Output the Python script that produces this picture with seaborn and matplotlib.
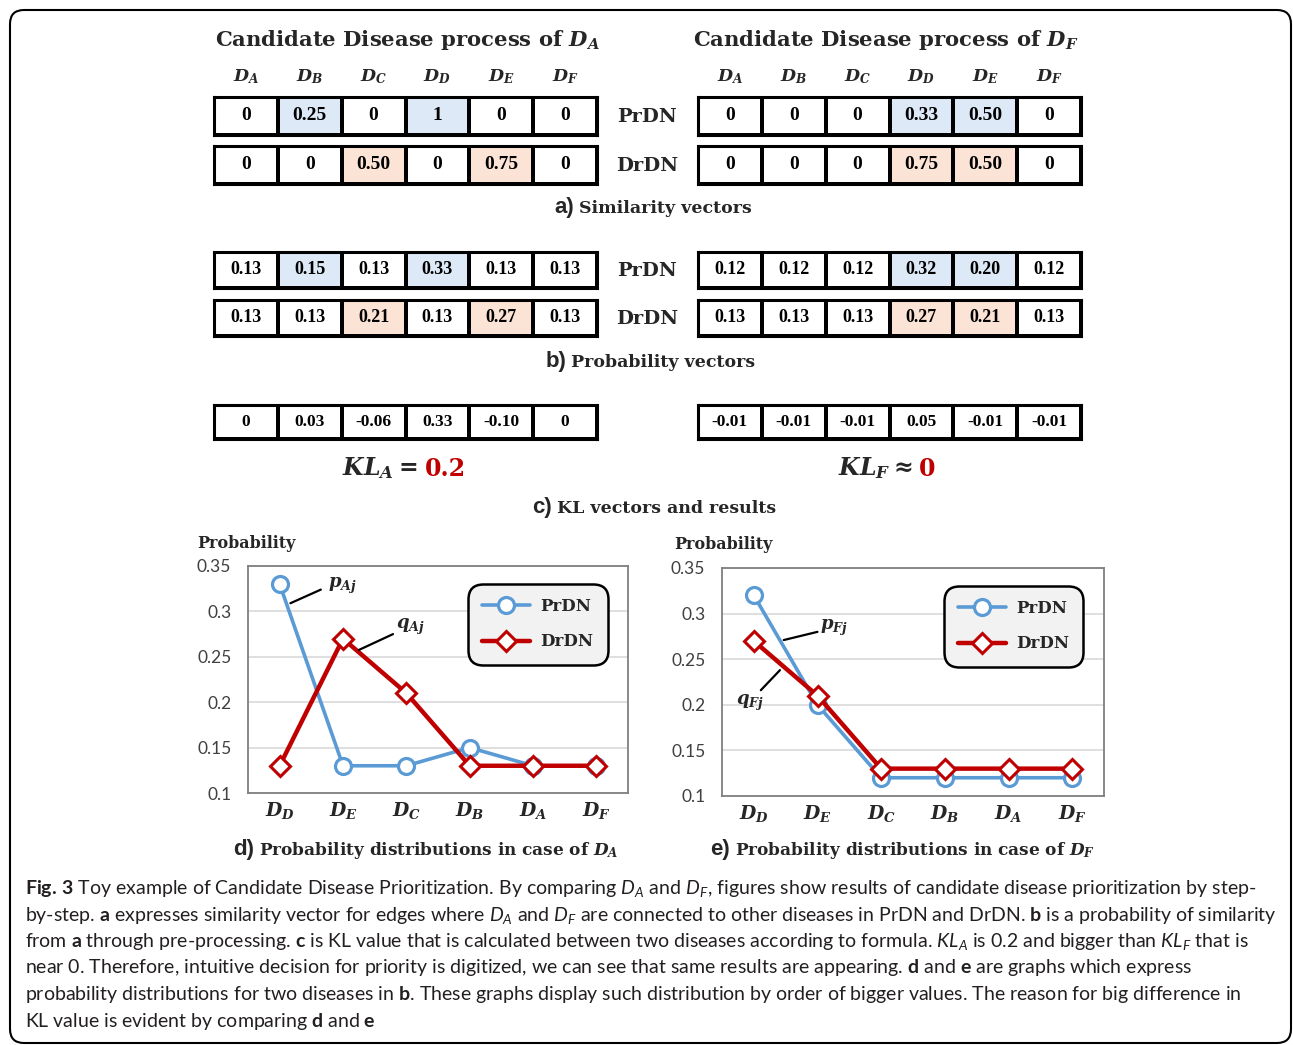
import numpy as np
import pandas as pd
import matplotlib
matplotlib.use('Agg')
import matplotlib.pyplot as plt
import seaborn as sns
from matplotlib.colors import ListedColormap
from matplotlib.patches import FancyBboxPatch

# ---------------- data ----------------
diseases = ['A', 'B', 'C', 'D', 'E', 'F']
col_labels = [f'$D_{d}$' for d in diseases]
row_labels = ['PrDN', 'DrDN']

sim_A_pr = [0, 0.25, 0, 1, 0, 0]
sim_A_dr = [0, 0, 0.50, 0, 0.75, 0]
sim_F_pr = [0, 0, 0, 0.33, 0.50, 0]
sim_F_dr = [0, 0, 0, 0.75, 0.50, 0]

prob_A_pr = [0.13, 0.15, 0.13, 0.33, 0.13, 0.13]
prob_A_dr = [0.13, 0.13, 0.21, 0.13, 0.27, 0.13]
prob_F_pr = [0.12, 0.12, 0.12, 0.32, 0.20, 0.12]
prob_F_dr = [0.13, 0.13, 0.13, 0.27, 0.21, 0.13]

kl_A = [0, 0.03, -0.06, 0.33, -0.10, 0]
kl_F = [-0.01, -0.01, -0.01, 0.05, -0.01, -0.01]
kl_A_result = '0.2'
kl_F_result = '0'

plot_order = ['D', 'E', 'C', 'B', 'A', 'F']
y_ticks = [0.1, 0.15, 0.2, 0.25, 0.3, 0.35]
y_tick_labels = ['0.1', '0.15', '0.2', '0.25', '0.3', '0.35']

# ---------------- style ----------------
sns.set_style('white')
plt.rcParams['font.family'] = ['DejaVu Serif']
plt.rcParams['mathtext.fontset'] = 'custom'
plt.rcParams['mathtext.it'] = 'DejaVu Serif:italic:bold'
plt.rcParams['mathtext.rm'] = 'DejaVu Serif:bold'
plt.rcParams['mathtext.bf'] = 'Lato:bold'
plt.rcParams['mathtext.sf'] = 'Lato:italic'

BLUE = '#5b9bd5'
RED = '#c00000'
cmap3 = ListedColormap(['white', '#dde9f6', '#fbe4d5'])

W, H = 1293, 1045
fig = plt.figure(figsize=(W / 100, H / 100), dpi=100)
bg = fig.add_axes([0, 0, 1, 1])
bg.set_xlim(0, W)
bg.set_ylim(H, 0)
bg.axis('off')

bg.add_patch(FancyBboxPatch((10, 10), 1281, 1033, boxstyle='round,pad=0,rounding_size=14',
                            fc='none', ec='black', lw=1.5))


def pax(x0, y0, x1, y1):
    return fig.add_axes([x0 / W, 1 - y1 / H, (x1 - x0) / W, (y1 - y0) / H])


def fmt(v):
    if v == 0:
        return '0'
    if v == 1:
        return '1'
    return f'{v:.2f}'


def table_row(x0, y0, x1, y1, values, hl=None, hl_idx=0, fs=14):
    ax = pax(x0, y0, x1, y1)
    if hl is None:
        cat = np.zeros((1, len(values)))
    else:
        cat = np.array([[hl_idx if h > 0 else 0 for h in hl]])
    annot = np.array([[fmt(v) for v in values]])
    sns.heatmap(cat, ax=ax, cmap=cmap3, vmin=-0.5, vmax=2.5, annot=annot, fmt='',
                cbar=False, linewidths=1.6, linecolor='black',
                xticklabels=False, yticklabels=False,
                annot_kws=dict(fontsize=fs, fontweight='bold', family='Liberation Serif', color='black'))
    for s in ax.spines.values():
        s.set_visible(True)
        s.set_linewidth(2.2)
        s.set_color('black')
    return ax


LX = (214, 597)
RX = (698, 1081)
cellw = (LX[1] - LX[0]) / 6

# titles
bg.text(407, 46, 'Candidate Disease process of $D_A$', ha='center', va='baseline', fontsize=15.2, fontweight='bold')
bg.text(886, 46, 'Candidate Disease process of $D_F$', ha='center', va='baseline', fontsize=15.2, fontweight='bold')

# column headers
for x0 in (LX[0], RX[0]):
    for i, lab in enumerate(col_labels):
        bg.text(x0 + (i + 0.5) * cellw, 77, lab, ha='center', va='center', fontsize=12.5)

# a) similarity tables
table_row(LX[0], 97, LX[1], 135, sim_A_pr, sim_A_pr, 1)
table_row(LX[0], 146, LX[1], 184, sim_A_dr, sim_A_dr, 2)
table_row(RX[0], 97, RX[1], 135, sim_F_pr, sim_F_pr, 1)
table_row(RX[0], 146, RX[1], 184, sim_F_dr, sim_F_dr, 2)
bg.text(647, 117, row_labels[0], ha='center', va='center', fontsize=14, fontweight='bold')
bg.text(647, 166, row_labels[1], ha='center', va='center', fontsize=14, fontweight='bold')

# b) probability tables
table_row(LX[0], 252, LX[1], 288, prob_A_pr, sim_A_pr, 1, fs=13)
table_row(LX[0], 300, LX[1], 336, prob_A_dr, sim_A_dr, 2, fs=13)
table_row(RX[0], 252, RX[1], 288, prob_F_pr, sim_F_pr, 1, fs=13)
table_row(RX[0], 300, RX[1], 336, prob_F_dr, sim_F_dr, 2, fs=13)
bg.text(647, 271, row_labels[0], ha='center', va='center', fontsize=14, fontweight='bold')
bg.text(647, 319, row_labels[1], ha='center', va='center', fontsize=14, fontweight='bold')

# c) KL tables
table_row(LX[0], 405, LX[1], 439, kl_A, fs=12.5)
table_row(RX[0], 405, RX[1], 439, kl_F, fs=12.5)

t = bg.text(342, 475, r'$KL_A =$', ha='left', va='baseline', fontsize=17)
bg.annotate(kl_A_result, xy=(1, 0), xycoords=t, xytext=(5, 0), textcoords='offset points',
            ha='left', va='bottom', fontsize=17, fontweight='bold', color=RED)
t = bg.text(838, 475, r'$KL_F \approx$', ha='left', va='baseline', fontsize=17)
bg.annotate(kl_F_result, xy=(1, 0), xycoords=t, xytext=(5, 0), textcoords='offset points',
            ha='left', va='bottom', fontsize=17, fontweight='bold', color=RED)


def section(xj, yb, letter, text, fs=12.5):
    bg.text(xj - 2, yb, letter, ha='right', va='baseline', family='Liberation Sans',
            fontweight='bold', fontsize=16)
    bg.text(xj + 3, yb, text, ha='left', va='baseline', fontsize=fs, fontweight='bold')


section(576, 213, 'a)', 'Similarity vectors')
section(568, 367, 'b)', 'Probability vectors')
section(554, 513, 'c)', 'KL vectors and results')
section(256, 855, 'd)', 'Probability distributions in case of $D_A$', fs=12.2)
section(732, 855, 'e)', 'Probability distributions in case of $D_F$', fs=12.2)


# ---------------- line charts ----------------
def reorder(vals):
    return [vals[diseases.index(d)] for d in plot_order]


def line_chart(box, pr, dr, lab_pos, legend_anchor):
    ax = pax(*box)
    xl = [f'$D_{d}$' for d in plot_order]
    sns.lineplot(x=xl, y=reorder(pr), ax=ax, color=BLUE, lw=2.6, marker='o', markersize=11.5,
                 markerfacecolor='white', markeredgecolor=BLUE, markeredgewidth=2.3,
                 label='PrDN', sort=False)
    sns.lineplot(x=xl, y=reorder(dr), ax=ax, color=RED, lw=3.2, marker='D', markersize=10,
                 markerfacecolor='white', markeredgecolor=RED, markeredgewidth=2.2,
                 label='DrDN', sort=False)
    ax.set_xlim(-0.5, 5.5)
    ax.set_ylim(0.1, 0.35)
    ax.set_yticks(y_ticks)
    ax.set_yticklabels(y_tick_labels, family='Lato', fontsize=12.5, color='#404040')
    for lbl in ax.get_xticklabels():
        lbl.set_fontsize(13.5)
    ax.tick_params(length=0, pad=5)
    ax.tick_params(axis='y', pad=12)
    ax.yaxis.grid(True, color='#d9d9d9', lw=1.2)
    ax.set_axisbelow(True)
    for s in ax.spines.values():
        s.set_visible(True)
        s.set_color('#7f7f7f')
        s.set_linewidth(1.3)
    ax.set_xlabel('')
    ax.set_ylabel('')
    leg = ax.legend(loc='upper right', bbox_to_anchor=legend_anchor, frameon=True, fancybox=True,
                    prop=dict(family='DejaVu Serif', weight='bold', size=12), handlelength=2.9,
                    borderpad=0.85, labelspacing=1.1, handletextpad=0.6, edgecolor='black',
                    facecolor='#f2f2f2', framealpha=1)
    leg.get_frame().set_linewidth(1.8)
    leg.get_frame().set_boxstyle('round,pad=0.0,rounding_size=0.9')
    for (txt, lx0, ly0, lx1, ly1, tx, ty, ha) in lab_pos:
        ax.plot([lx0, lx1], [ly0, ly1], color='black', lw=1.6)
        ax.text(tx, ty, txt, ha=ha, va='center', fontsize=13)
    return ax


ax_d = line_chart((248, 566, 628, 793), prob_A_pr, prob_A_dr,
                  [('$p_{Aj}$', 0.17, 0.309, 0.65, 0.324, 0.76, 0.328, 'left'),
                   ('$q_{Aj}$', 1.25, 0.2575, 1.79, 0.275, 1.83, 0.283, 'left')],
                  (0.968, 0.958))
bg.text(197, 548, 'Probability', ha='left', va='baseline', fontsize=11.5, fontweight='bold')

ax_e = line_chart((722, 568, 1104, 796), prob_F_pr, prob_F_dr,
                  [('$p_{Fj}$', 0.47, 0.271, 1.0, 0.280, 1.04, 0.284, 'left'),
                   ('$q_{Fj}$', 0.11, 0.216, 0.41, 0.238, -0.06, 0.202, 'center')],
                  (0.968, 0.958))
bg.text(674, 549, 'Probability', ha='left', va='baseline', fontsize=11.5, fontweight='bold')

# ---------------- caption ----------------
cap_lines = [
    r"$\mathbf{Fig.}\!$ $\mathbf{3}$ Toy example of Candidate Disease Prioritization. By comparing $\mathsf{D}_{\mathsf{A}}$ and $\mathsf{D}_{\mathsf{F}}$, figures show results of candidate disease prioritization by step-",
    r"by-step. $\mathbf{a}$ expresses similarity vector for edges where $\mathsf{D}_{\mathsf{A}}$ and $\mathsf{D}_{\mathsf{F}}$ are connected to other diseases in PrDN and DrDN. $\mathbf{b}$ is a probability of similarity",
    r"from $\mathbf{a}$ through pre-processing. $\mathbf{c}$ is KL value that is calculated between two diseases according to formula. $\mathsf{KL}_{\mathsf{A}}$ is 0.2 and bigger than $\mathsf{KL}_{\mathsf{F}}$ that is",
    r"near 0. Therefore, intuitive decision for priority is digitized, we can see that same results are appearing. $\mathbf{d}$ and $\mathbf{e}$ are graphs which express",
    r"probability distributions for two diseases in $\mathbf{b}$. These graphs display such distribution by order of bigger values. The reason for big difference in",
    r"KL value is evident by comparing $\mathbf{d}$ and $\mathbf{e}$",
]
for i, line in enumerate(cap_lines):
    bg.text(25, 894 + i * 26.5, line, ha='left', va='baseline', family='Lato', fontsize=14,
            color='#231f20')

fig.savefig('out.png', dpi=100)
